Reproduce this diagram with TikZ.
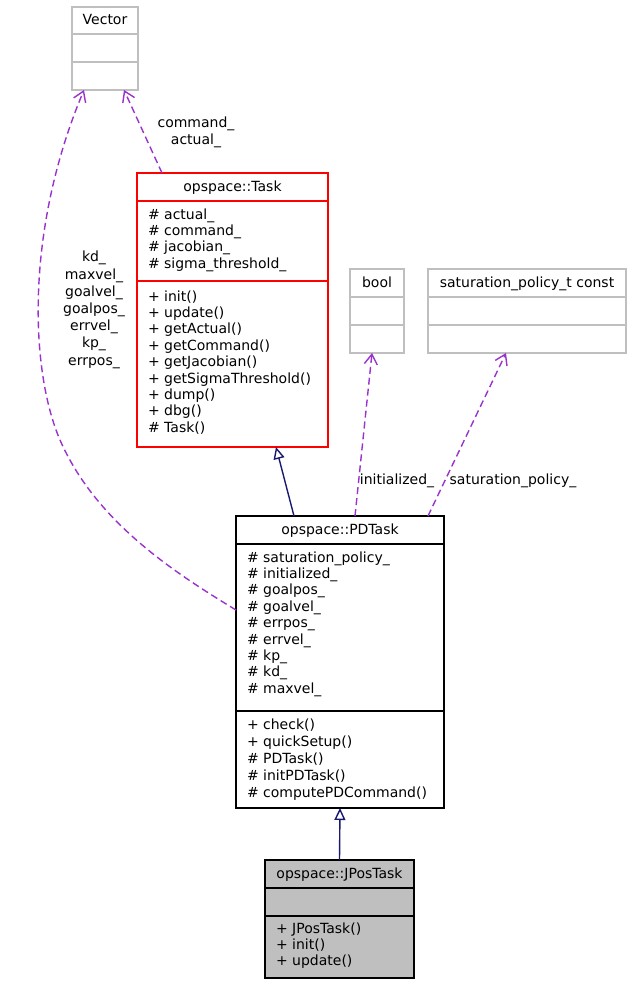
\documentclass[tikz,border=0pt]{standalone}
\usepackage{fontspec}
\setmainfont{DejaVu Sans}
\usetikzlibrary{arrows.meta}
\definecolor{boxgray}{HTML}{BFBFBF}
\definecolor{usepurple}{HTML}{9A32CD}
\definecolor{inhnavy}{HTML}{191970}
\begin{document}
\begin{tikzpicture}[x=1pt,y=-1pt,
  every node/.style={font=\fontsize{14}{16.4}\selectfont, inner sep=0pt, outer sep=0pt},
  cbox/.style={rectangle, draw, line width=1.3pt, anchor=north west},
  divider/.style={line width=1.3pt},
  txt/.style={anchor=base west, align=left},
  ctxt/.style={anchor=base, align=center},
  usage/.style={usepurple, line width=1.4pt, dash pattern=on 7pt off 4pt,
    -{Straight Barb[length=10pt,width=13pt,line width=1.4pt]}},
  inherit/.style={inhnavy, line width=1.4pt,
    -{Triangle[open,length=12pt,width=11pt,line width=1.4pt,fill=white]}}
]
\useasboundingbox (0,0) rectangle (630,983);

% Vector
\node[cbox, draw=boxgray, minimum width=66pt, minimum height=83pt] (vec) at (72,7) {};
\draw[divider, boxgray] ([yshift=-27pt]vec.north west) -- ([yshift=-27pt]vec.north east);
\draw[divider, boxgray] ([yshift=-55pt]vec.north west) -- ([yshift=-55pt]vec.north east);
\node[ctxt] (vect) at (105,24) {Vector};

% opspace::Task
\node[cbox, draw=red, minimum width=191pt, minimum height=274pt] (task) at (137,173) {};
\draw[divider, red] ([yshift=-28pt]task.north west) -- ([yshift=-28pt]task.north east);
\draw[divider, red] ([yshift=-108pt]task.north west) -- ([yshift=-108pt]task.north east);
\node[ctxt] (taskt) at (232.5,191) {opspace::Task};
\node[txt] (taska) at (148,268.2) {\# actual\_\\\# command\_\\\# jacobian\_\\\# sigma\_threshold\_};
\node[txt] (taskm) at (148,432.2) {+ init()\\+ update()\\+ getActual()\\+ getCommand()\\+ getJacobian()\\+ getSigmaThreshold()\\+ dump()\\+ dbg()\\\# Task()};

% bool
\node[cbox, draw=boxgray, minimum width=54pt, minimum height=84pt] (bool) at (350,269) {};
\draw[divider, boxgray] ([yshift=-28pt]bool.north west) -- ([yshift=-28pt]bool.north east);
\draw[divider, boxgray] ([yshift=-56pt]bool.north west) -- ([yshift=-56pt]bool.north east);
\node[ctxt] (boolt) at (377,287) {bool};

% saturation_policy_t const
\node[cbox, draw=boxgray, minimum width=198pt, minimum height=84pt] (sat) at (428,269) {};
\draw[divider, boxgray] ([yshift=-28pt]sat.north west) -- ([yshift=-28pt]sat.north east);
\draw[divider, boxgray] ([yshift=-56pt]sat.north west) -- ([yshift=-56pt]sat.north east);
\node[ctxt] (satt) at (527,287) {saturation\_policy\_t const};

% opspace::PDTask
\node[cbox, draw=black, minimum width=208pt, minimum height=292pt] (pd) at (236,516) {};
\draw[divider] ([yshift=-28pt]pd.north west) -- ([yshift=-28pt]pd.north east);
\draw[divider] ([yshift=-195pt]pd.north west) -- ([yshift=-195pt]pd.north east);
\node[ctxt] (pdt) at (340,534) {opspace::PDTask};
\node[txt] (pda) at (247,693.2) {\# saturation\_policy\_\\\# initialized\_\\\# goalpos\_\\\# goalvel\_\\\# errpos\_\\\# errvel\_\\\# kp\_\\\# kd\_\\\# maxvel\_};
\node[txt, font=\fontsize{14}{17}\selectfont] (pdm) at (247,797) {+ check()\\+ quickSetup()\\\# PDTask()\\\# initPDTask()\\\# computePDCommand()};

% opspace::JPosTask
\node[cbox, draw=black, fill=boxgray, minimum width=149pt, minimum height=118pt] (jp) at (265,860) {};
\draw[divider] ([yshift=-28pt]jp.north west) -- ([yshift=-28pt]jp.north east);
\draw[divider] ([yshift=-56pt]jp.north west) -- ([yshift=-56pt]jp.north east);
\node[ctxt] (jpt) at (339.5,878) {opspace::JPosTask};
\node[txt] (jpm) at (276,965.8) {+ JPosTask()\\+ init()\\+ update()};

% edges
\draw[usage] ([xshift=25pt]task.north west) -- ([xshift=52pt]vec.south west);
\node[ctxt, font=\fontsize{14}{17}\selectfont] (lcmd) at (196,144) {command\_\\actual\_};

\draw[usage] ([yshift=52pt]pd.west) .. controls (170,570) and (95,520) .. (60,440)
  .. controls (30,370) and (25,230) .. ([xshift=12pt]vec.south west);
\node[ctxt, font=\fontsize{14}{17.2}\selectfont] (lpd) at (94,365) {kd\_\\maxvel\_\\goalvel\_\\goalpos\_\\errvel\_\\kp\_\\errpos\_};

\draw[inherit] ([xshift=58pt]pd.north west) -- ([xshift=139pt]task.south west);

\draw[usage] ([xshift=119pt]pd.north west) -- ([xshift=22pt]bool.south west);
\node[ctxt] (linit) at (397,484) {initialized\_};

\draw[usage] ([xshift=192pt]pd.north west) -- ([xshift=78pt]sat.south west);
\node[ctxt] (lsat) at (513,484) {saturation\_policy\_};

\draw[inherit] (jp.north) -- (pd.south);
\end{tikzpicture}
\end{document}
